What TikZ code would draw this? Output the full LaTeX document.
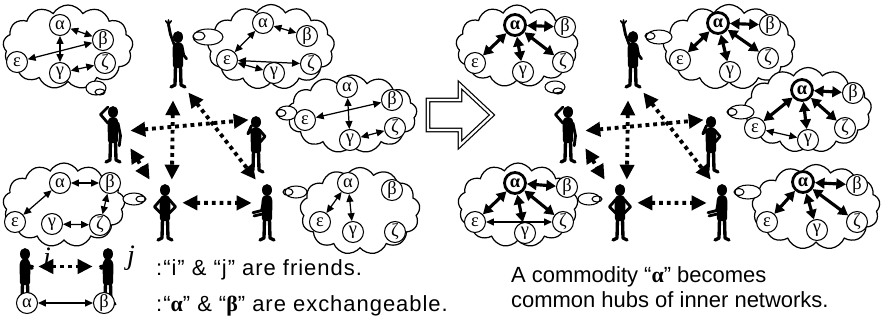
\documentclass[tikz,border=0pt]{standalone}
\usepackage{fontspec}
\setmainfont{Liberation Sans}
\newfontfamily\greekfont{Liberation Serif}
\newfontfamily\legendfont[LetterSpace = 4.5]{Liberation Sans}
\usetikzlibrary{shapes.symbols}
\usetikzlibrary{arrows.meta}
\usetikzlibrary{fit}

\providecommand\boldgreek[1]{{\greekfont\bfseries #1}}
% five commodities of one inner network, named #1-a ... #1-z
\providecommand\cloudletters[6]{%
    \node (#1-a) [alpha] at #2 {α};
    \node (#1-b) [letter] at #3 {β};
    \node (#1-e) [letter] at #4 {ε};
    \node (#1-g) [letter] at #5 {γ};
    \node (#1-z) [letter] at #6 {ζ};
}

\tikzset{
    limb/.style = {line width = 1.6pt, line cap = round, line join = round},
    leg/.style = {line width = 1.9pt, line cap = round, line join = round},
    torso/.pic = {
        \fill (0,0) ellipse [x radius = 5, y radius = 6];
        \fill[rounded corners = 1.5pt] (-3,5) -- (-5.5,9) -- (-5,31) -- (5,31) -- (5.5,9) -- (3,5) -- cycle;
        \draw[leg] (-2.5,29) -- (-3,48) -- (-7,50);
        \draw[leg] (2.5,29) -- (3,48) -- (7,50);
    },
    thinker/.pic = {
        \pic {torso};
        \draw[limb] (-4,9) -- (-10,2) -- (-4,-4);
        \draw[limb] (4,9) -- (6,19) -- (5,27);
    },
    waver/.pic = {
        \pic {torso};
        \draw[limb] (-4,8) -- (-8,-3) -- (-10,-13);
        \draw[limb, line width = 0.9pt] (-10,-13) -- (-13,-17) (-10,-13) -- (-10,-18) (-10,-13) -- (-7,-17);
        \draw[limb] (4,9) -- (6,19) -- (9,23);
    },
    chin/.pic = {
        \pic {torso};
        \draw[limb] (-4,9) -- (-9,13) -- (-5,4);
        \draw[limb] (4,9) -- (10,16) -- (5,22);
    },
    akimbo/.pic = {
        \pic {torso};
        \draw[limb] (-4,9) -- (-10,16) -- (-4,22);
        \draw[limb] (4,9) -- (10,16) -- (4,22);
    },
    offer/.pic = {
        \pic {torso};
        \draw[limb] (-3,9) -- (-5,19) -- (-13,21);
        \draw[limb] (3,10) -- (1,21) -- (-12,24);
    },
}

\begin{document}
\begin{tikzpicture}[%
        x = 0.02cm,
        y = -0.02cm,
        thought/.style = {cloud, cloud puffs = 13, cloud puff arc = 120, cloud ignores aspect,
            draw, fill = white, line width = 0.7pt, inner sep = 0pt},
        puff/.style = {draw, fill = white, line width = 0.6pt},
        letter/.style = {circle, draw, fill = white, line width = 0.6pt, inner sep = 0pt,
            minimum size = 0.42cm, font = \greekfont\fontsize{10.5}{10.5}\selectfont},
        hub/.style = {letter, line width = 1.6pt, font = \greekfont\bfseries\fontsize{10.5}{10.5}\selectfont},
        alpha/.style = {letter},
        trade/.style = {line width = 0.7pt, >={Triangle[length = 4.5pt, width = 4pt]}, <->},
        bond/.style = {line width = 1.8pt, >={Triangle[length = 5.5pt, width = 6pt]}, <->},
        friend/.style = {line width = 2.2pt, dash pattern = on 2.2pt off 2.2pt,
            >={Triangle[length = 8.5pt, width = 8pt]}, <->},
        folk/.style = {inner sep = 0pt},
        font = \fontsize{12.5}{14}\selectfont,
        ]

\useasboundingbox (0,0) rectangle (883,322);

% clouds, left (before) and right (after)
\node (L1) [thought, minimum width = 2.6cm, minimum height = 1.68cm] at (68,47) {};
\draw[puff] (96,88) ellipse [x radius = 10, y radius = 7] (100,92) ellipse [x radius = 5, y radius = 3];
\node (L2) [thought, minimum width = 2.54cm, minimum height = 1.7cm] at (271,47) {};
\draw[puff] (208,37) ellipse [x radius = 15, y radius = 8] (199,36) ellipse [x radius = 6, y radius = 4];
\node (L3) [thought, minimum width = 2.6cm, minimum height = 1.56cm] at (352,114) {};
\draw[puff] (287,113) ellipse [x radius = 10, y radius = 7] (281,113) ellipse [x radius = 5, y radius = 3.5];
\node (L4) [thought, minimum width = 2.44cm, minimum height = 1.68cm] at (64,205) {};
\draw[puff] (134,199) ellipse [x radius = 11, y radius = 6] (141,199) ellipse [x radius = 5, y radius = 3];
\node (L5) [thought, minimum width = 2.4cm, minimum height = 1.74cm] at (360,211) {};
\draw[puff] (296,192) ellipse [x radius = 11, y radius = 6] (288,192) ellipse [x radius = 5, y radius = 3.5];

\node (R1) [thought, minimum width = 2.44cm, minimum height = 1.64cm] at (517,46) {};
\draw[puff] (555,87) ellipse [x radius = 10, y radius = 6] (558,91) ellipse [x radius = 5, y radius = 3];
\node (R2) [thought, minimum width = 2.64cm, minimum height = 1.7cm] at (729,47) {};
\draw[puff] (659,37) ellipse [x radius = 13, y radius = 7] (650,36) ellipse [x radius = 5, y radius = 3.5];
\node (R3) [thought, minimum width = 2.54cm, minimum height = 1.7cm] at (808,110) {};
\draw[puff] (741,112) ellipse [x radius = 13, y radius = 7] (732,112) ellipse [x radius = 5, y radius = 3.5];
\node (R4) [thought, minimum width = 2.4cm, minimum height = 1.68cm] at (518,205) {};
\draw[puff] (589,199) ellipse [x radius = 11, y radius = 6] (597,199) ellipse [x radius = 5, y radius = 3];
\node (R5) [thought, minimum width = 2.56cm, minimum height = 1.7cm] at (816,207) {};
\draw[puff] (748,192) ellipse [x radius = 13, y radius = 7] (739,192) ellipse [x radius = 5, y radius = 3.5];

% inner networks before
\cloudletters{L1}{(60,25)}{(103,40)}{(17,62)}{(60,73)}{(105,63)}
\cloudletters{L2}{(263,23)}{(307,36)}{(227,60)}{(274,73)}{(311,64)}
\cloudletters{L3}{(347,87)}{(392,100)}{(305,120)}{(350,140)}{(395,128)}
\cloudletters{L4}{(60,183)}{(110,183)}{(15,222)}{(52,224)}{(100,225)}
\cloudletters{L5}{(348,183)}{(392,190)}{(320,222)}{(353,232)}{(395,232)}

\draw[trade] (L1-a) -- (L1-b);
\draw[trade] (L1-a) -- (L1-g);
\draw[trade] (L1-e) -- (L1-b);
\draw[trade] (L1-g) -- (L1-z);
\draw[trade] (L2-a) -- (L2-b);
\draw[trade] (L2-a) -- (L2-e);
\draw[trade] (L2-e) -- (L2-z);
\draw[trade] (L2-e) -- (L2-g);
\draw[trade] (L3-a) -- (L3-g);
\draw[trade] (L3-e) -- (L3-b);
\draw[trade] (L3-g) -- (L3-z);
\draw[trade] (L4-a) -- (L4-b);
\draw[trade] (L4-a) -- (L4-e);
\draw[trade] (L4-b) -- (L4-z);
\draw[trade] (L4-g) -- (L4-z);
\draw[trade] (L5-a) -- (L5-g);
\draw[trade] (L5-e) -- (L5-a);

% inner networks after: alpha is the hub
\begin{scope}[alpha/.style = {hub}]
\cloudletters{R1}{(515,25)}{(565,27)}{(475,63)}{(523,72)}{(563,62)}
\cloudletters{R2}{(718,23)}{(770,25)}{(680,60)}{(730,72)}{(768,58)}
\cloudletters{R3}{(802,90)}{(853,93)}{(755,128)}{(808,140)}{(845,128)}
\cloudletters{R4}{(515,183)}{(567,187)}{(475,222)}{(525,233)}{(563,222)}
\cloudletters{R5}{(803,182)}{(857,185)}{(767,222)}{(817,230)}{(857,222)}
\end{scope}

\foreach \C in {R1,R2,R3,R4,R5}{
    \foreach \K in {b,e,g,z}{
        \draw[bond] (\C-a) -- (\C-\K);
        }
    }
\draw[trade] (R3-e) -- (R3-g);
\draw[trade] (R4-e) -- (R4-z);

% the people and their friendships, on both sides
\foreach \S/\DX in {L/0,R/455}{
    \begin{scope}[shift = {(\DX,0)}]
    \pic[scale = 1.25] at (113,112) {thinker};
    \pic[scale = 0.95] at (178,37) {waver};
    \pic[scale = 0.9] at (256,122) {chin};
    \pic[scale = 1.05] at (165,190) {akimbo};
    \pic[scale = 1.08] at (267,190) {offer};

    \node (\S-P1) [folk, fit = {(94,102) (130,178)}] {};
    \node (\S-P2) [folk, fit = {(158,16) (188,100)}] {};
    \node (\S-P3) [folk, fit = {(249,119) (275,167)}] {};
    \node (\S-P4) [folk, fit = {(150,180) (182,246)}] {};
    \node (\S-P5) [folk, fit = {(252,180) (280,246)}] {};

    \draw[friend] (\S-P1.27) -- (\S-P3.120);
    \draw[friend] (\S-P1.-24) -- (\S-P4.north west);
    \draw[friend] (\S-P2.south) -- (\S-P4.80);
    \draw[friend] (\S-P2.-66) -- (\S-P5.107);
    \draw[friend] (\S-P4.32) -- (\S-P5.145);
    \end{scope}
    }

% before -> after
\draw[line width = 0.7pt, double, double distance = 1.3pt]
    (428,100) -- (460,100) -- (460,85) -- (492,115) -- (460,145) -- (460,130) -- (428,130) -- cycle;

% legend
\pic[xscale = -0.6, yscale = 0.6] at (25,254) {offer};
\pic[scale = 0.6] at (108,254) {offer};
\node (Li) [folk, fit = {(12,248) (38,285)}] {};
\node (Lj) [folk, fit = {(93,248) (120,285)}] {};
\node (i) at (47,257) {\greekfont\itshape\fontsize{16}{16}\selectfont i};
\node (j) at (131,258) {\greekfont\itshape\fontsize{16}{16}\selectfont j};
\draw[friend] (Li.east) -- (Lj.west);

\node (xa) [letter] at (27,303) {α};
\node (xb) [letter] at (104,303) {β};
\draw[trade] (xa) -- (xb);

\node (friends) [anchor = base west, font = \legendfont\fontsize{12.5}{14}\selectfont] at (150,275)
    {:“i” \& “j” are friends.};
\node (exchange) [anchor = base west, font = \legendfont\fontsize{12.5}{14}\selectfont] at (150,311)
    {:“\boldgreek{α}” \& “\boldgreek{β}” are exchangeable.};
\node (hubs1) [anchor = base west] at (505,282) {A commodity “\boldgreek{α}” becomes};
\node (hubs2) [anchor = base west] at (505,307) {common hubs of inner networks.};

\end{tikzpicture}
\end{document}
